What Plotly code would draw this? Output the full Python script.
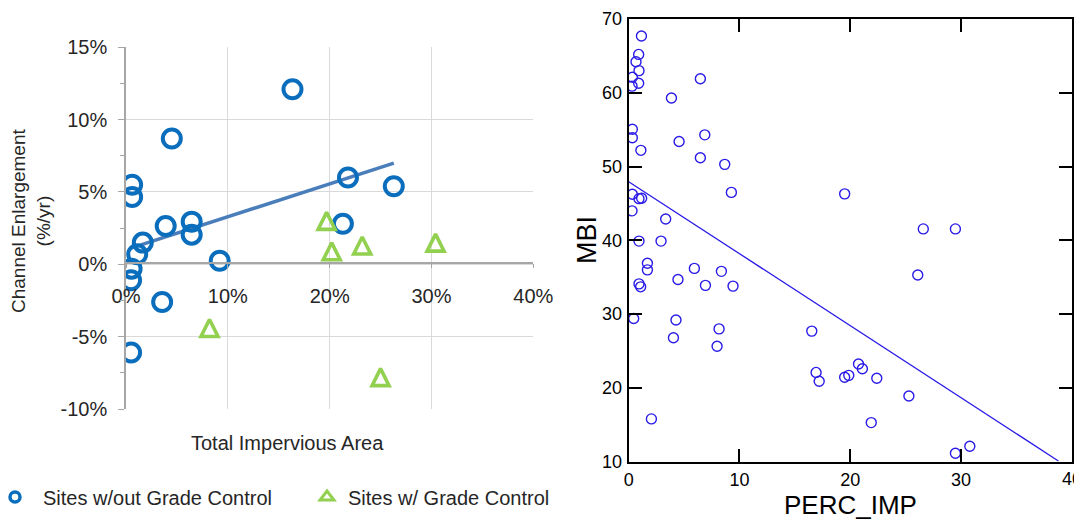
import plotly.graph_objects as go

# ---------------- Left panel data (values in %) ----------------
no_gc_x = [16.35, 4.5, 0.6, 0.6, 1.65, 1.1, 3.9, 6.45, 6.45, 9.2, 0.55, 0.5, 3.55, 0.5, 21.8, 21.3, 26.3]
no_gc_y = [12.1, 8.7, 5.5, 4.65, 1.5, 0.7, 2.65, 2.95, 2.05, 0.25, -0.3, -1.1, -2.6, -6.1, 6.0, 2.8, 5.4]
gc_x = [19.7, 20.2, 23.2, 30.4, 8.2, 25.0]
gc_y = [3.0, 0.9, 1.3, 1.5, -4.4, -7.8]
trend_x = [0.4, 26.3]
trend_y = [1.1, 7.0]
left_xticks = [0, 10, 20, 30, 40]
left_xtext = ["0%", "10%", "20%", "30%", "40%"]
left_yticks = [-10, -5, 0, 5, 10, 15]
left_ytext = ["-10%", "-5%", "0%", "5%", "10%", "15%"]

# ---------------- Right panel data ----------------
perc_imp = [1.15, 0.9, 0.66, 0.93, 0.33, 0.9, 0.3, 6.47, 3.86, 0.33, 0.33, 6.87, 4.55, 1.1, 6.47,
            8.67, 0.33, 9.27, 0.93, 1.17, 0.3, 3.34, 0.93, 2.92, 1.69, 1.69, 0.93, 1.08, 4.45, 5.93,
            6.93, 8.37, 9.42, 0.45, 4.27, 4.04, 8.16, 7.98, 2.05, 16.53, 16.92, 17.2, 26.1, 20.75,
            21.1, 19.5, 19.87, 22.4, 25.3, 21.9, 29.5, 30.8, 19.5, 26.6, 29.5]
mbi = [67.7, 65.2, 64.2, 63.0, 62.1, 61.3, 60.9, 61.9, 59.3, 55.05, 53.9, 54.3, 53.4, 52.2, 51.2,
       50.3, 46.25, 46.5, 45.65, 45.7, 44.0, 42.9, 39.9, 39.9, 36.9, 36.0, 34.1, 33.7, 34.7, 36.2,
       33.9, 35.8, 33.8, 29.4, 29.2, 26.8, 28.0, 25.65, 15.8, 27.7, 22.1, 20.9, 35.3, 23.25,
       22.6, 21.45, 21.7, 21.3, 18.9, 15.3, 11.15, 12.1, 46.3, 41.55, 41.55]
fit_x = [0, 38.8]
fit_y = [47.95, 10.1]
right_xticks = [0, 10, 20, 30, 40]
right_xtext = ["0", "10", "20", "30", ""]   # last label drawn as an annotation (edge of the window)
right_last_label = "40"
right_yticks = [10, 20, 30, 40, 50, 60, 70]

# page is offset by the default 8px body margin; figure extends slightly past the window
OFF = 8
W, H = 1082, 521


def fx(p):
    return (p - OFF) / W


def fy(p):
    return 1 - (p - OFF) / H


FONT = "Liberation Sans, Arial, sans-serif"
BLUE = "#0A6EBD"
GREEN = "#92D050"
RBLUE = "#2A1BE6"
TXT = "#262626"
TRI = 17
LFS = 20

fig = go.Figure()

# left panel traces
fig.add_trace(go.Scatter(x=trend_x, y=trend_y, mode="lines",
                         line=dict(color="#4A7EBB", width=3.5), showlegend=False,
                         xaxis="x", yaxis="y"))
fig.add_trace(go.Scatter(x=no_gc_x, y=no_gc_y, mode="markers",
                         marker=dict(symbol="circle-open", size=18, color=BLUE,
                                     line=dict(width=4, color=BLUE)),
                         showlegend=False, xaxis="x", yaxis="y"))
fig.add_trace(go.Scatter(x=gc_x, y=gc_y, mode="markers",
                         marker=dict(symbol="arrow-down-open", size=TRI, angle=180, standoff=TRI / 2,
                                     color=GREEN, line=dict(width=3.6, color=GREEN)),
                         showlegend=False, xaxis="x", yaxis="y"))
# legend entries
fig.add_trace(go.Scatter(x=[None], y=[None], mode="markers", name="Sites w/out Grade Control",
                         marker=dict(symbol="circle-open", size=10, color=BLUE,
                                     line=dict(width=3.5, color=BLUE)),
                         xaxis="x", yaxis="y", legend="legend"))
fig.add_trace(go.Scatter(x=[None], y=[None], mode="markers", name="Sites w/ Grade Control",
                         marker=dict(symbol="triangle-up-open", size=12, color=GREEN,
                                     line=dict(width=3, color=GREEN)),
                         xaxis="x", yaxis="y", legend="legend2"))

# right panel traces
fig.add_trace(go.Scatter(x=fit_x, y=fit_y, mode="lines", line=dict(color=RBLUE, width=1.3),
                         showlegend=False, xaxis="x2", yaxis="y2"))
fig.add_trace(go.Scatter(x=perc_imp, y=mbi, mode="markers",
                         marker=dict(symbol="circle-open", size=10, color=RBLUE,
                                     line=dict(width=1.4, color=RBLUE)),
                         showlegend=False, xaxis="x2", yaxis="y2"))

legend_common = dict(orientation="h", xanchor="left", y=fy(497), yanchor="middle",
                     font=dict(size=LFS, color=TXT, family=FONT), bgcolor="rgba(0,0,0,0)")

fig.update_layout(
    width=W, height=H, margin=dict(l=0, r=0, t=0, b=0, autoexpand=False),
    paper_bgcolor="white", plot_bgcolor="white",
    font=dict(family=FONT, color=TXT),
    xaxis=dict(domain=[fx(126), fx(533.3)], range=[0, 40], tickvals=left_xticks, ticktext=left_xtext,
               showgrid=True, gridcolor="#D9D9D9", gridwidth=1, zeroline=False, automargin=False,
               anchor="free", position=fy(263.3), showline=True, linecolor="#A6A6A6", linewidth=1.5,
               ticks="outside", ticklen=4, tickcolor="#A6A6A6", ticklabelstandoff=11,
               tickfont=dict(size=LFS, color=TXT, family=FONT)),
    yaxis=dict(domain=[fy(409), fy(47.3)], range=[-10, 15], tickvals=left_yticks, ticktext=left_ytext,
               showgrid=True, gridcolor="#D9D9D9", gridwidth=1, zeroline=False, automargin=False,
               showline=True, linecolor="#A6A6A6", linewidth=1.5,
               ticks="outside", ticklen=6, tickcolor="#A6A6A6", ticklabelstandoff=7,
               minor=dict(ticks="outside", ticklen=4, dtick=2.5, tickcolor="#A6A6A6", showgrid=False),
               tickfont=dict(size=LFS, color=TXT, family=FONT)),
    xaxis2=dict(domain=[fx(628.7), fx(1071.7)], range=[0, 40], tickvals=right_xticks,
                ticktext=right_xtext, anchor="y2", automargin=False,
                showgrid=False, zeroline=False, showline=True, linecolor="black", linewidth=2,
                mirror="ticks", ticks="inside", ticklen=13, tickwidth=2, tickcolor="black",
                ticklabelstandoff=1, ticklabeloverflow="allow",
                tickfont=dict(size=18, color="black", family=FONT)),
    yaxis2=dict(domain=[fy(461.7), fy(19)], range=[10, 70], tickvals=right_yticks, anchor="x2",
                automargin=False,
                showgrid=False, zeroline=False, showline=True, linecolor="black", linewidth=2,
                mirror="ticks", ticks="inside", ticklen=13, tickwidth=2, tickcolor="black",
                ticklabelstandoff=1, ticklabeloverflow="allow",
                tickfont=dict(size=18, color="black", family=FONT)),
    legend=dict(x=fx(-13), itemwidth=46, **legend_common),
    legend2=dict(x=fx(306), itemwidth=32, **legend_common),
    annotations=[
        dict(text="Channel Enlargement<br>(%/yr)", x=fx(31), y=fy(221), xref="paper", yref="paper",
             textangle=-90, showarrow=False, xanchor="center", yanchor="middle",
             font=dict(size=19, color=TXT, family=FONT)),
        dict(text="Total Impervious Area", x=fx(287), y=fy(443), xref="paper", yref="paper",
             showarrow=False, xanchor="center", yanchor="middle",
             font=dict(size=LFS, color=TXT, family=FONT)),
        dict(text="MBI", x=fx(587), y=fy(240), xref="paper", yref="paper",
             textangle=-90, showarrow=False, xanchor="center", yanchor="middle",
             font=dict(size=27, color="black", family=FONT)),
        dict(text="PERC_IMP", x=fx(850), y=fy(505), xref="paper", yref="paper",
             showarrow=False, xanchor="center", yanchor="middle",
             font=dict(size=26, color="black", family=FONT)),
        dict(text=right_last_label, x=right_xticks[-1], xref="x2", y=fy(479), yref="paper",
             showarrow=False, xanchor="center", yanchor="middle",
             font=dict(size=18, color="black", family=FONT)),
    ],
)

fig.write_html("out.html")
